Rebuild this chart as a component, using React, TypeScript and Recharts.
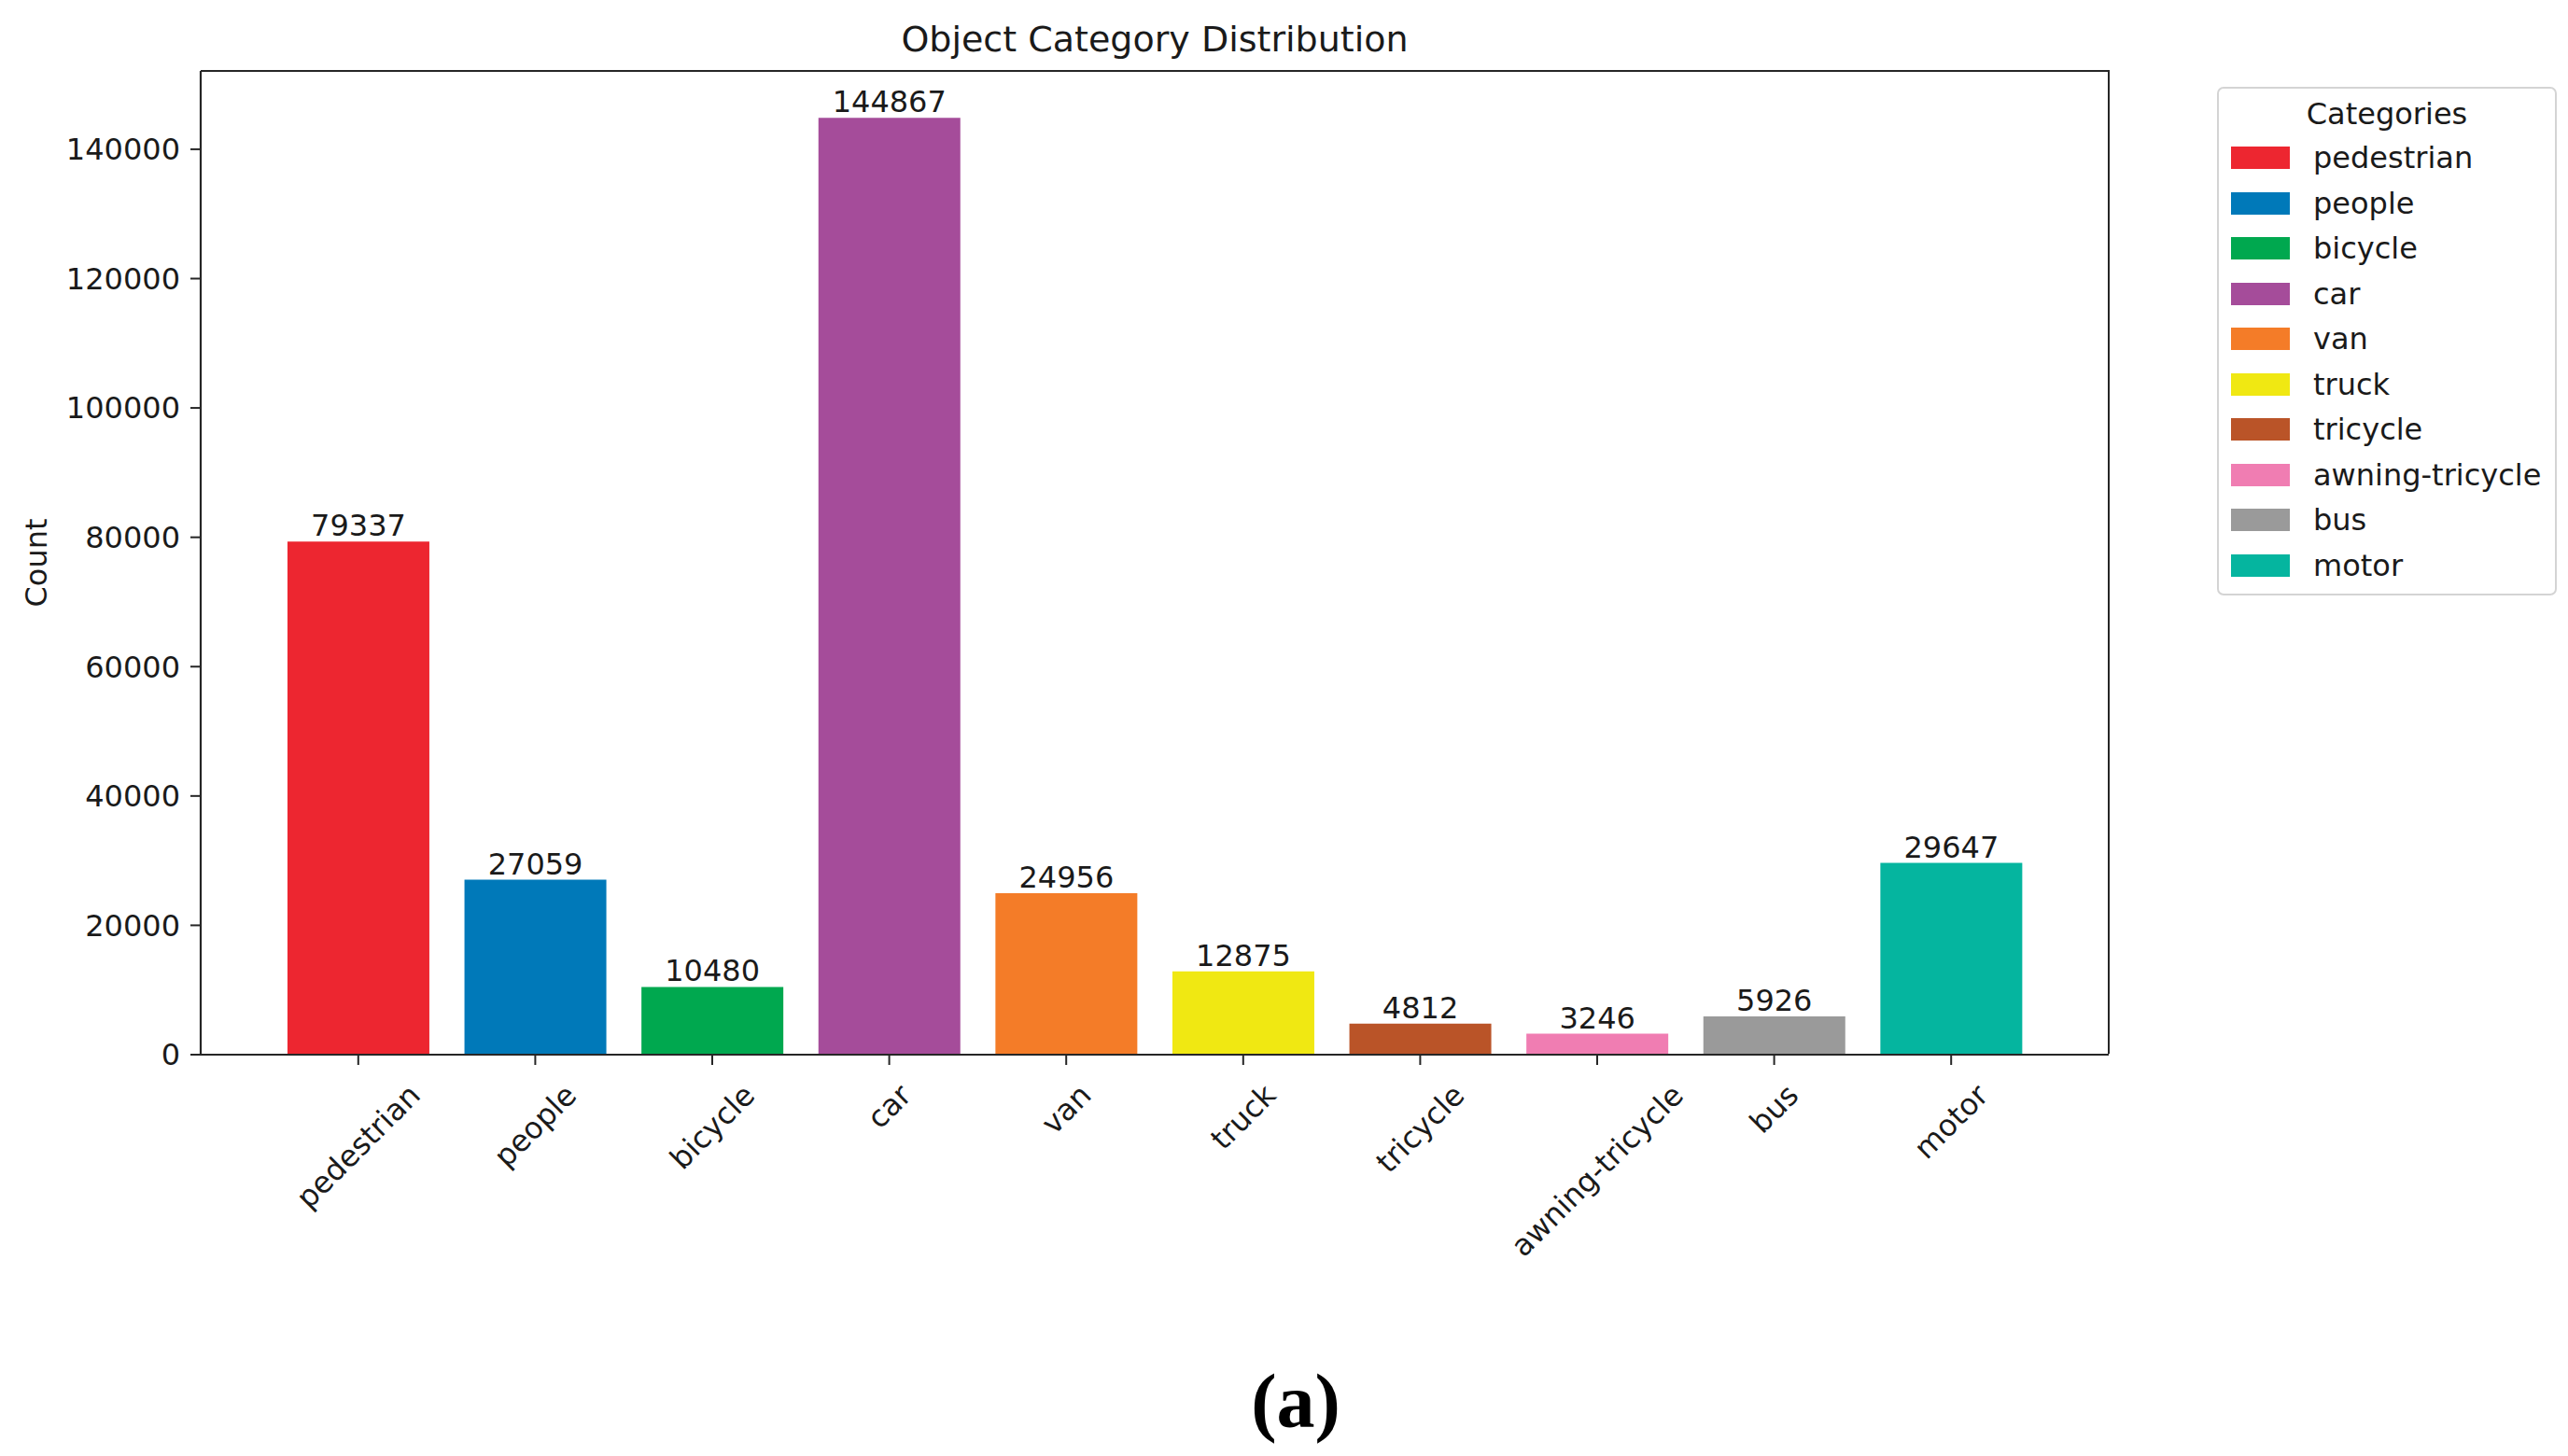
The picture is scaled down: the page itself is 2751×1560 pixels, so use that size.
import React from 'react';
import { BarChart, Bar, XAxis, YAxis, Cell, LabelList } from 'recharts';

// categories, with bar counts and colours
const categories = [
  'pedestrian',
  'people',
  'bicycle',
  'car',
  'van',
  'truck',
  'tricycle',
  'awning-tricycle',
  'bus',
  'motor',
];
const counts = [79337, 27059, 10480, 144867, 24956, 12875, 4812, 3246, 5926, 29647];
const barColors = [
  '#ED2630',
  '#0079B9',
  '#00A84F',
  '#A54C9A',
  '#F47C28',
  '#F0E812',
  '#BA5428',
  '#F07DB2',
  '#9A9A9A',
  '#05B59F',
];
const yTicks = [0, 20000, 40000, 60000, 80000, 100000, 120000, 140000];

const W = 2751;
const H = 1560;
const FONT = '"DejaVu Sans", Verdana, sans-serif';
const INK = '#1a1a1a';
const AXIS = '#262626';

// plot area (matplotlib axes box)
const PLOT = { left: 215, top: 76, right: 2259, bottom: 1130 };

const data = categories.map((name, i) => ({ name, value: counts[i] }));

let ctx: CanvasRenderingContext2D | null = null;
const measure = (s: string, size: number) => {
  if (!ctx) ctx = document.createElement('canvas').getContext('2d');
  if (!ctx) return s.length * size * 0.6;
  ctx.font = `${size}px "DejaVu Sans"`;
  return ctx.measureText(s).width;
};

// rotated tick label, centred on the tick like matplotlib's rotation=45
const XTick = (props: any) => {
  const { x, y, payload } = props;
  const label = String(payload.value);
  const w = measure(label, 32);
  const h = 36;
  const half = (w + h) / (2 * Math.SQRT2);
  const cy = y + 12 + half;
  return (
    <text
      x={x}
      y={cy}
      transform={`rotate(-45, ${x}, ${cy})`}
      textAnchor="middle"
      dominantBaseline="central"
      fill={INK}
      fontSize={32}
      fontFamily={FONT}
    >
      {label}
    </text>
  );
};

export default function App() {
  return (
    <div
      style={{
        position: 'absolute',
        left: 0,
        top: 0,
        width: W,
        height: H,
        background: '#fff',
        fontFamily: FONT,
        color: INK,
      }}
    >
      <div
        style={{
          position: 'absolute',
          left: 1237 - 600,
          width: 1200,
          top: 18,
          lineHeight: '48px',
          fontSize: 38,
          textAlign: 'center',
        }}
      >
        Object Category Distribution
      </div>

      <div
        style={{
          position: 'absolute',
          left: 39,
          top: 603,
          fontSize: 32,
          transform: 'translate(-50%, -50%) rotate(-90deg)',
          whiteSpace: 'nowrap',
        }}
      >
        Count
      </div>

      <div style={{ position: 'absolute', left: 0, top: 0 }}>
        <BarChart
          width={W}
          height={H}
          data={data}
          margin={{ top: PLOT.top, right: W - PLOT.right, bottom: H - PLOT.bottom - 60, left: PLOT.left - 120 }}
          barCategoryGap="10%"
        >
          <XAxis
            dataKey="name"
            height={60}
            padding={{ left: 74, right: 74 }}
            interval={0}
            tick={<XTick />}
            tickSize={11}
            axisLine={{ stroke: AXIS, strokeWidth: 2.2 }}
            tickLine={{ stroke: AXIS, strokeWidth: 2 }}
          />
          <YAxis
            width={120}
            domain={[0, 152110]}
            ticks={yTicks}
            allowDataOverflow
            tickSize={11}
            tickMargin={11}
            tick={{ fill: INK, fontSize: 32, fontFamily: FONT }}
            axisLine={{ stroke: AXIS, strokeWidth: 2.2 }}
            tickLine={{ stroke: AXIS, strokeWidth: 2 }}
          />
          <Bar dataKey="value" isAnimationActive={false}>
            {data.map((d, i) => (
              <Cell key={d.name} fill={barColors[i]} />
            ))}
            <LabelList
              dataKey="value"
              position="top"
              offset={6}
              fill={INK}
              fontSize={32}
              fontFamily={FONT}
            />
          </Bar>
        </BarChart>
      </div>

      {/* top and right spines of the axes box */}
      <div
        style={{
          position: 'absolute',
          left: PLOT.left,
          top: PLOT.top - 1,
          width: PLOT.right - PLOT.left + 1,
          height: PLOT.bottom - PLOT.top,
          boxSizing: 'border-box',
          borderTop: `2px solid ${AXIS}`,
          borderRight: `2px solid ${AXIS}`,
          pointerEvents: 'none',
        }}
      />

      {/* legend box, built from the same arrays */}
      <div
        style={{
          position: 'absolute',
          left: 2375,
          top: 93,
          width: 364,
          height: 545,
          boxSizing: 'border-box',
          border: '2px solid #d4d4d4',
          borderRadius: 7,
          background: '#fff',
        }}
      >
        <div
          style={{
            position: 'absolute',
            left: 0,
            right: 0,
            top: 27 - 22,
            lineHeight: '44px',
            fontSize: 32,
            textAlign: 'center',
          }}
        >
          Categories
        </div>
        {categories.map((name, i) => (
          <div
            key={name}
            style={{
              position: 'absolute',
              left: 13,
              top: 74 + i * 48.5 - 22,
              height: 44,
              display: 'flex',
              alignItems: 'center',
            }}
          >
            <div style={{ width: 63, height: 24, background: barColors[i] }} />
            <span style={{ marginLeft: 25, fontSize: 32, whiteSpace: 'nowrap' }}>{name}</span>
          </div>
        ))}
      </div>

      <div
        style={{
          position: 'absolute',
          left: 1388 - 200,
          width: 400,
          top: 1502 - 50,
          lineHeight: '100px',
          textAlign: 'center',
          fontFamily: '"Liberation Serif", "Times New Roman", serif',
          fontWeight: 'bold',
          fontSize: 82,
          color: '#000',
        }}
      >
        (a)
      </div>
    </div>
  );
}
